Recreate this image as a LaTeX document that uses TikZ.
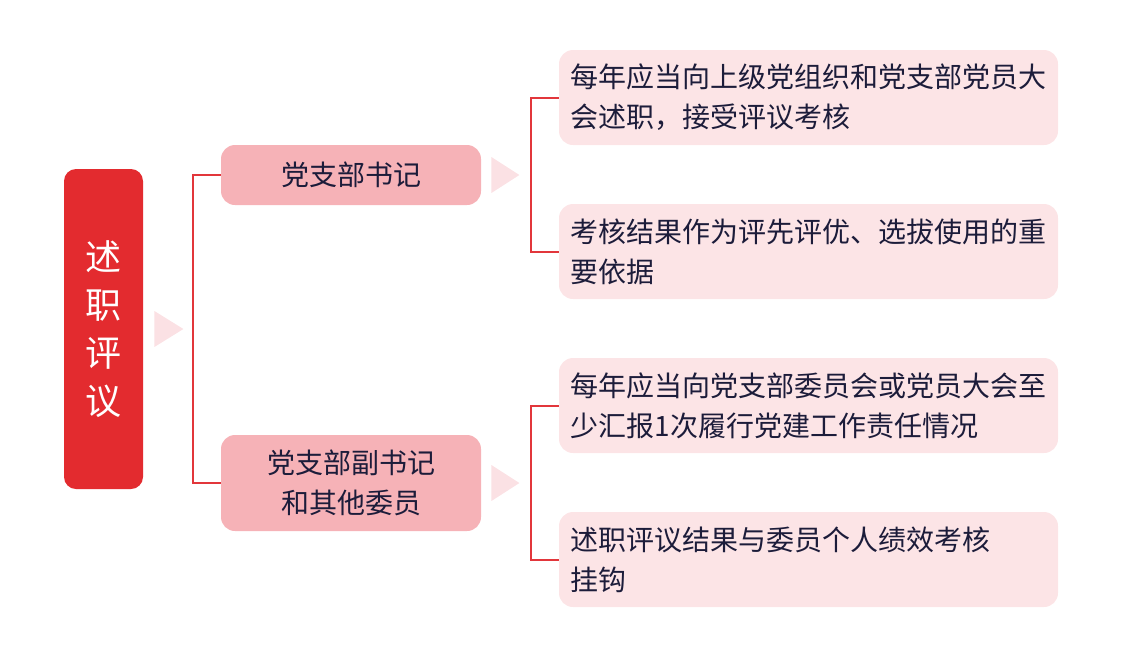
\documentclass[tikz,border=0pt]{standalone}
\usepackage{fontspec}
\setmainfont{Noto Sans CJK SC}
\usepackage{xcolor}
\definecolor{rootred}{HTML}{E32B2F}
\definecolor{secpink}{HTML}{F6B2B7}
\definecolor{leafpink}{HTML}{FCE4E6}
\definecolor{tripink}{HTML}{FBE1E4}
\definecolor{linkred}{HTML}{E2363B}
\definecolor{textnavy}{HTML}{1C1C3A}
\tikzset{
  rootbox/.style={fill=rootred, rounded corners=6pt, minimum width=39.5pt,
    minimum height=160pt, inner sep=0pt, text=white, align=center,
    font=\fontsize{18pt}{24pt}\selectfont},
  secbox/.style={fill=secpink, rounded corners=7pt, minimum width=130pt,
    inner sep=0pt, text=textnavy, align=center,
    font=\fontsize{14pt}{20pt}\selectfont},
  leafbox/.style={fill=leafpink, rounded corners=7pt, minimum height=47.5pt,
    text width=238pt, inner xsep=5.75pt, inner ysep=0pt, text=textnavy,
    align=left, font=\fontsize{14pt}{20pt}\selectfont},
  link/.style={draw=linkred, line width=1pt},
  pointer/.style={fill=tripink},
}

\begin{document}
\begin{tikzpicture}[x=0.5pt, y=-0.5pt]
	\useasboundingbox (0,0) rectangle (1132,666);
	\node[rootbox] (root) at (103.5,329) {述\\职\\评\\议};
	\node[secbox, minimum height=30pt] (sec1) at (351,175) {党支部书记};
	\node[secbox, minimum height=48pt] (sec2) at (351,483) {党支部副书记\\和其他委员};
	\node[leafbox] (leaf1) at (808.5,97.5) {每年应当向上级党组织和党支部党员大\\会述职，接受评议考核};
	\node[leafbox] (leaf2) at (808.5,251.5) {考核结果作为评先评优、选拔使用的重\\要依据};
	\node[leafbox] (leaf3) at (808.5,405.5) {每年应当向党支部委员会或党员大会至\\少汇报1次履行党建工作责任情况};
	\node[leafbox] (leaf4) at (808.5,559.5) {述职评议结果与委员个人绩效考核\\挂钩};
	% pointers
	\fill[pointer] ([xshift=5.5pt]root.east) -- ++(0,-18) -- ++(29,18) -- ++(-29,18) -- cycle;
	\fill[pointer] ([xshift=5pt]sec1.east) -- ++(0,-18) -- ++(28,18) -- ++(-28,18) -- cycle;
	\fill[pointer] ([xshift=5pt]sec2.east) -- ++(0,-18) -- ++(28,18) -- ++(-28,18) -- cycle;
	% brackets
	\draw[link] (sec1.west) -- ++(-28,0) |- (sec2.west);
	\draw[link] (leaf1.west) -- ++(-28,0) |- (leaf2.west);
	\draw[link] (leaf3.west) -- ++(-28,0) |- (leaf4.west);
\end{tikzpicture}
\end{document}
